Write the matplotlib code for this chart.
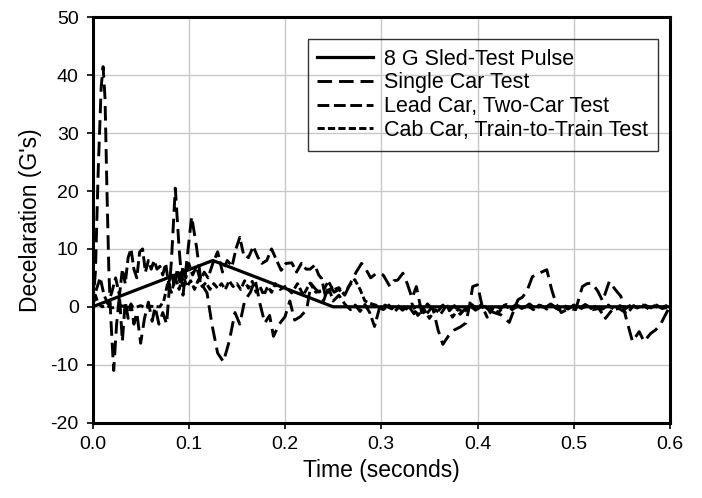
import matplotlib
matplotlib.use("Agg")
import matplotlib.pyplot as plt

plt.rcParams['font.family'] = ['Liberation Sans', 'DejaVu Sans']
plt.rcParams['lines.scale_dashes'] = False

# ---------------- data ----------------
sled_time = [0.0, 0.125, 0.25, 0.6]
sled_g = [0.0, 8.0, 0.0, 0.0]

single_time = [
    0.000, 0.003, 0.006, 0.009, 0.011, 0.013, 0.015, 0.017, 0.019, 0.022,
    0.025, 0.028, 0.031, 0.034, 0.037, 0.040, 0.043, 0.046, 0.050, 0.054,
    0.058, 0.062, 0.065, 0.069, 0.073, 0.077, 0.082, 0.086, 0.090, 0.094,
    0.098, 0.103, 0.108, 0.113, 0.119, 0.124, 0.130, 0.136, 0.142, 0.148,
    0.153, 0.158, 0.164, 0.169, 0.174, 0.179, 0.184, 0.188, 0.194, 0.200,
    0.205, 0.210, 0.216, 0.2225, 0.227, 0.232, 0.236, 0.240, 0.246, 0.251,
    0.256, 0.262, 0.269, 0.274, 0.2795, 0.284, 0.289, 0.295, 0.302, 0.309,
    0.313, 0.317, 0.3225, 0.327, 0.332, 0.3365, 0.342, 0.348, 0.354, 0.359,
    0.364, 0.370, 0.376, 0.382, 0.388, 0.392, 0.395, 0.400, 0.405, 0.410,
    0.417, 0.4245, 0.433, 0.438, 0.442, 0.447, 0.452, 0.457, 0.464, 0.472,
    0.477, 0.4815, 0.487, 0.495, 0.502, 0.509, 0.514, 0.519, 0.525, 0.530,
    0.537, 0.543, 0.549, 0.554, 0.561, 0.568, 0.573, 0.580, 0.585, 0.590,
    0.598, 0.600]
single_g = [
    0.0, 6.0, 24.0, 38.0, 41.5, 36.0, 20.0, 6.0, -2.0, -11.0,
    -3.0, 2.0, -6.0, 1.0, -2.0, 0.5, -3.0, -1.0, -6.3, -2.0,
    0.8, -2.5, 0.0, -3.0, -1.0, -3.0, 8.0, 20.5, 10.0, 2.0,
    8.0, 15.6, 10.4, 4.0, 2.4, -3.0, -8.0, -9.5, -6.0, -1.0,
    -3.0, 1.0, 2.5, 4.7, 0.5, -2.8, -1.5, -5.1, -3.0, -1.7,
    1.0, -2.3, -1.7, -0.5, 4.0, 3.0, 2.5, 1.0, 3.8, 2.5,
    3.0, 2.0, 4.4, 6.0, 7.5, 6.5, 5.0, 5.8, 5.5, 3.5,
    4.5, 4.6, 5.8, 4.0, 1.5, 3.5, -1.0, 0.5, -0.5, -4.0,
    -6.5, -5.0, -4.0, -3.5, -2.8, 0.5, 3.5, 3.8, 0.0, -0.5,
    -1.0, -1.4, -2.7, -0.5, 1.2, 1.7, 3.0, 5.2, 5.8, 6.4,
    3.0, 0.6, -1.0, -0.3, -0.5, 3.5, 4.0, 4.1, 2.7, 1.0,
    4.4, 3.0, 1.8, -1.7, -6.0, -4.3, -6.0, -4.6, -4.0, -3.1,
    -0.5, 0.0]

lead_time = [
    0.000, 0.004, 0.008, 0.012, 0.016, 0.020, 0.024, 0.028, 0.031, 0.034,
    0.037, 0.040, 0.043, 0.046, 0.049, 0.052, 0.055, 0.058, 0.061, 0.064,
    0.067, 0.070, 0.073, 0.076, 0.079, 0.082, 0.085, 0.088, 0.091, 0.094,
    0.097, 0.100, 0.104, 0.108, 0.112, 0.116, 0.120, 0.125, 0.130, 0.135,
    0.140, 0.145, 0.149, 0.153, 0.157, 0.162, 0.167, 0.172, 0.176, 0.181,
    0.186, 0.190, 0.196, 0.201, 0.207, 0.212, 0.217, 0.222, 0.226, 0.231,
    0.235, 0.238, 0.242, 0.246, 0.250, 0.256, 0.262, 0.268, 0.273, 0.278,
    0.283, 0.288, 0.293, 0.298, 0.304, 0.310, 0.316, 0.322, 0.328, 0.334,
    0.340, 0.346, 0.352, 0.358, 0.364, 0.370, 0.376, 0.382, 0.388, 0.394,
    0.400, 0.406, 0.412, 0.418, 0.424, 0.430, 0.436, 0.442, 0.448, 0.454,
    0.460, 0.466, 0.472, 0.478, 0.484, 0.490, 0.496, 0.502, 0.508, 0.514,
    0.520, 0.526, 0.533, 0.540, 0.547, 0.5555, 0.562, 0.568, 0.574, 0.580,
    0.586, 0.592, 0.600]
lead_g = [
    0.0, 3.0, 5.0, 2.0, 0.5, 2.5, 5.0, 2.0, 6.5, 4.0,
    8.5, 10.0, 6.5, 5.0, 9.5, 10.0, 6.0, 8.0, 6.5, 8.0,
    6.5, 7.0, 5.5, 7.5, 4.0, 6.0, 3.5, 6.5, 4.0, 7.0,
    5.0, 7.5, 5.5, 7.0, 4.5, 6.0, 5.0, 7.5, 9.5, 6.0,
    8.0, 7.0, 10.0, 12.0, 9.0, 8.5, 10.4, 8.5, 7.5, 8.0,
    10.0, 8.5, 6.3, 7.5, 7.6, 6.0, 7.5, 6.5, 6.5, 7.2,
    5.5, 4.9, 1.8, 3.0, 1.0, 2.0, 0.5, -0.5, 0.3, -0.8,
    0.4, -1.0, -3.4, -0.3, 0.3, -0.3, 0.4, -0.6, 0.2, -1.2,
    0.3, -1.5, -0.2, -1.0, 0.3, -0.8, 0.2, -1.3, -0.2, 0.4,
    -0.4, 0.3, -0.6, 0.2, -0.3, 0.4, -0.5, 0.2, -0.2, 0.5,
    -0.3, 0.2, -0.4, 0.3, -0.5, 0.2, -0.2, 0.4, -0.3, 0.2,
    -0.5, -0.3, -2.0, -0.5, -0.3, -1.2, 0.2, -0.4, 0.3, -0.2,
    0.3, -0.3, 0.0]

cab_time = [
    0.000, 0.003, 0.006, 0.010, 0.015, 0.020, 0.025, 0.030, 0.035, 0.040,
    0.045, 0.050, 0.055, 0.060, 0.065, 0.070, 0.074, 0.078, 0.082, 0.086,
    0.090, 0.094, 0.098, 0.102, 0.106, 0.110, 0.114, 0.118, 0.122, 0.126,
    0.130, 0.134, 0.138, 0.142, 0.146, 0.150, 0.154, 0.158, 0.162, 0.166,
    0.170, 0.174, 0.178, 0.182, 0.186, 0.190, 0.195, 0.200, 0.207, 0.213,
    0.219, 0.226, 0.232, 0.240, 0.245, 0.250, 0.256, 0.262, 0.266, 0.2725,
    0.278, 0.283, 0.290, 0.296, 0.302, 0.308, 0.314, 0.320, 0.326, 0.332,
    0.338, 0.344, 0.350, 0.356, 0.362, 0.368, 0.374, 0.380, 0.386, 0.392,
    0.398, 0.404, 0.410, 0.416, 0.422, 0.428, 0.434, 0.440, 0.446, 0.452,
    0.458, 0.464, 0.470, 0.476, 0.482, 0.488, 0.494, 0.500, 0.506, 0.512,
    0.518, 0.524, 0.530, 0.536, 0.542, 0.548, 0.554, 0.560, 0.566, 0.572,
    0.578, 0.584, 0.590, 0.596, 0.600]
cab_g = [
    0.0, 2.0, 0.5, 0.0, 0.2, -0.2, 0.0, 0.2, -0.2, 0.1,
    -0.1, 0.2, -0.2, 0.1, 0.0, 0.0, 1.0, 4.0, 2.5, 5.0,
    3.0, 5.5, 3.5, 4.5, 3.0, 4.7, 3.5, 4.2, 3.0, 4.0,
    3.2, 4.0, 3.0, 4.5, 3.5, 4.0, 3.0, 4.5, 3.2, 4.4,
    2.5, 3.5, 2.0, 3.5, 2.5, 4.0, 3.0, 3.5, 2.4, 4.0,
    2.0, 4.1, 2.5, 2.9, 4.4, 2.9, 3.3, 2.0, 3.5, 4.7,
    3.0, 1.0, 0.5, 0.2, -0.5, 0.3, -0.8, 0.2, -0.4, 0.5,
    -1.5, -0.3, -2.0, -0.5, -1.2, 0.3, -1.8, -0.4, -1.0, 0.2,
    -0.6, 0.4, -1.8, -0.3, -1.0, 0.3, -0.4, 0.4, -0.3, 0.2,
    -0.5, 0.3, -0.2, 0.5, -0.3, 0.2, -0.4, 0.3, -0.2, 0.4,
    -0.3, 0.2, -0.4, 0.3, -0.5, 0.2, -0.3, 0.4, -0.2, 0.3,
    -0.4, 0.2, -0.3, 0.2, 0.0]

labels = ["8 G Sled-Test Pulse", "Single Car Test",
          "Lead Car, Two-Car Test", "Cab Car, Train-to-Train Test"]
x_ticks = [0.0, 0.1, 0.2, 0.3, 0.4, 0.5, 0.6]
y_ticks = [-20, -10, 0, 10, 20, 30, 40, 50]

# ---------------- figure ----------------
fig = plt.figure(figsize=(7.02, 4.98), dpi=100)
ax = fig.add_axes([0.1318, 0.1516, 0.8226, 0.8133])

ax.plot(sled_time, sled_g, color='black', lw=2.3, solid_joinstyle='miter',
        label=labels[0], zorder=5)
ax.plot(single_time, single_g, color='black', lw=2.1, dashes=(10.5, 5),
        label=labels[1], zorder=4)
ax.plot(lead_time, lead_g, color='black', lw=2.1, dashes=(8.5, 3.3),
        label=labels[2], zorder=4)
ax.plot(cab_time, cab_g, color='black', lw=2.1, dashes=(5.2, 2.3),
        label=labels[3], zorder=4)

ax.set_xlim(0, 0.6)
ax.set_ylim(-20, 50)
ax.set_xticks(x_ticks)
ax.set_xticklabels([f"{v:.1f}" for v in x_ticks])
ax.set_yticks(y_ticks)
ax.set_yticklabels([str(v) for v in y_ticks])

ax.grid(True, color='#c8c8c8', lw=1.0)
ax.set_axisbelow(True)
for sp in ax.spines.values():
    sp.set_linewidth(2.2)
    sp.set_color('black')
ax.tick_params(direction='out', length=4, width=1.2, labelsize=14,
               colors='black', pad=6)

ax.set_xlabel("Time (seconds)", fontsize=16.5, labelpad=4)
ax.set_ylabel("Decelaration (G's)", fontsize=16.5, labelpad=6)

leg = ax.legend(loc='upper right', bbox_to_anchor=(0.979, 0.947),
                fontsize=15.5, frameon=True, fancybox=False,
                edgecolor='black', facecolor='none', framealpha=None,
                borderaxespad=0, borderpad=0.45, labelspacing=0.13,
                handlelength=2.6, handletextpad=0.5)
leg.get_frame().set_linewidth(1.0)

fig.savefig("out.png", dpi=100)
